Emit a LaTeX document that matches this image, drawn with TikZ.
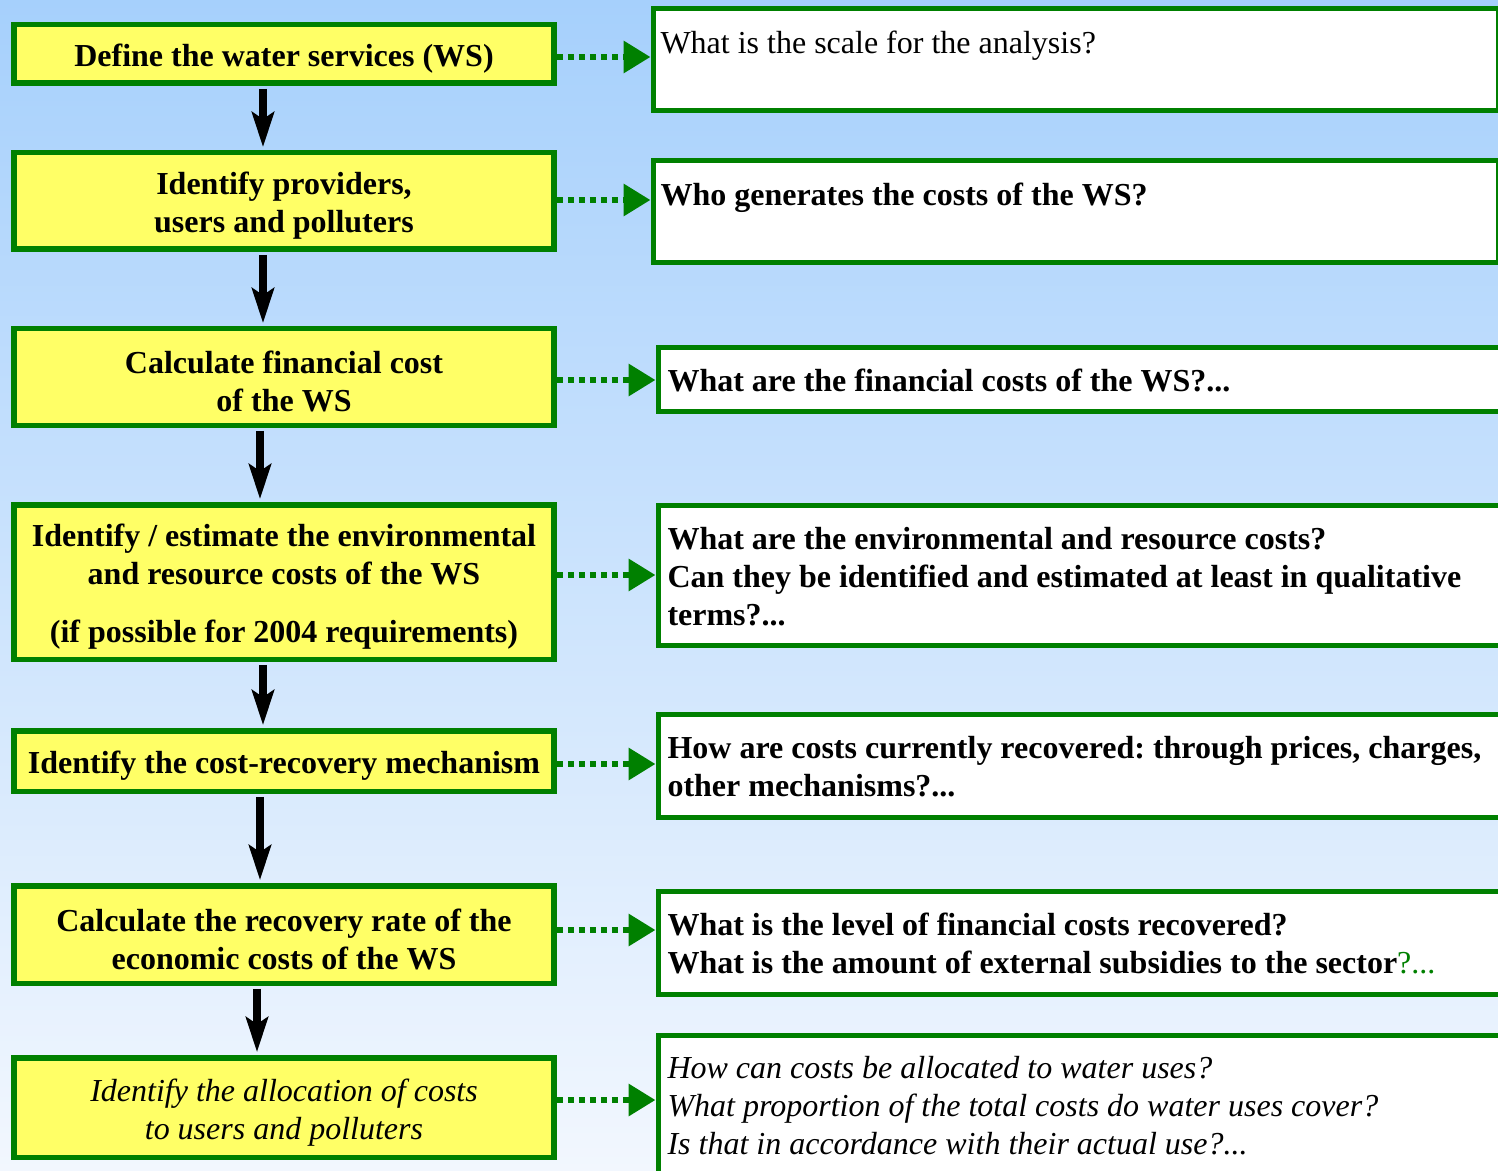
\documentclass[tikz,border=0pt]{standalone}
\usepackage{fontspec}
\setmainfont{Liberation Serif}
\usepackage{xcolor}
\definecolor{wsgreen}{RGB}{0,128,0}
\definecolor{wsyellow}{RGB}{255,255,102}
\definecolor{skytop}{RGB}{166,208,252}
\definecolor{skymid}{RGB}{200,226,252}
\definecolor{skybot}{RGB}{242,247,254}
\usetikzlibrary{arrows.meta}
\frenchspacing

\begin{document}
\begin{tikzpicture}[x=0.5pt, y=-0.5pt,
  every node/.style={font=\fontsize{16}{19}\selectfont},
  stepbx/.style={draw=wsgreen, fill=wsyellow, line width=2.75pt, text width=270pt, text height=16pt, align=flush center, inner sep=0pt, font=\fontsize{16}{19}\selectfont\bfseries},
  askbx/.style={draw=wsgreen, fill=white, line width=2.5pt, anchor=west, align=flush left, inner ysep=0pt, inner xsep=4.75pt, text width=425.5pt, text height=12pt},
  topask/.style={askbx, inner xsep=3.75pt, text width=415pt, minimum height=51pt, text height=11pt, text depth=17pt},
  flowarr/.style={-{Stealth[length=17.5pt, width=11pt, inset=3.5pt]}, line width=4pt, shorten <=1.4pt, shorten >=1.4pt},
  askarr/.style={-{Triangle[length=13.5pt, width=15.5pt]}, wsgreen, line width=3.25pt, dash pattern=on 3.25pt off 2.25pt}]
% Background
\useasboundingbox (0,0) rectangle (1498,1171);
\shade[top color=skytop, middle color=skymid, bottom color=skybot] (0,0) rectangle (1498,1171);
\clip (0,0) rectangle (1498,1171);
% Steps
\node[stepbx, minimum height=29.25pt] (s1) at (284,54) {Define the water services (WS)};
\node[stepbx, minimum height=48.25pt] (s2) at (284,201) {Identify providers,\\users and polluters};
\node[stepbx, minimum height=48.25pt] (s3) at (284,377) {Calculate financial cost\\of the WS};
\node[stepbx, minimum height=77.25pt] (s4) at (284,582) {Identify / estimate the environmental\\and resource costs of the WS\\[10pt](if possible for 2004 requirements)};
\node[stepbx, minimum height=30.25pt] (s5) at (284,761) {Identify the cost-recovery mechanism};
\node[stepbx, minimum height=48.75pt] (s6) at (284,934.5) {Calculate the recovery rate of the\\economic costs of the WS};
\node[stepbx, minimum height=49.75pt, font=\fontsize{16}{19}\selectfont\itshape] (s7) at (284,1107.5) {Identify the allocation of costs\\to users and polluters};
% Questions
\node[topask] (q1) at (650.5,59.5) {What is the scale for the analysis?};
\node[topask, font=\fontsize{16}{19}\selectfont\bfseries] (q2) at (650.5,211.5) {Who generates the costs of the WS?};
\node[askbx, minimum height=32pt, font=\fontsize{16}{19}\selectfont\bfseries] (q3) at (655.5,379.5) {What are the financial costs of the WS?...};
\node[askbx, minimum height=70pt, font=\fontsize{16}{19}\selectfont\bfseries] (q4) at (655.5,575.5) {What are the environmental and resource costs?\\Can they be identified and estimated at least in qualitative\\terms?...};
\node[askbx, minimum height=51.5pt, font=\fontsize{16}{19}\selectfont\bfseries] (q5) at (655.5,766) {How are costs currently recovered: through prices, charges,\\other mechanisms?...};
\node[askbx, minimum height=51.5pt, font=\fontsize{16}{19}\selectfont\bfseries] (q6) at (655.5,943) {What is the level of financial costs recovered?\\What is the amount of external subsidies to the sector{\color{wsgreen}\mdseries ?...}};
\node[askbx, minimum height=70pt, font=\fontsize{16}{19}\selectfont\itshape] (q7) at (655.5,1105) {How can costs be allocated to water uses?\\What proportion of the total costs do water uses cover?\\Is that in accordance with their actual use?...};
% Flow arrows
\draw[flowarr] ([xshift=-10.5pt]s1.south) -- ([xshift=-10.5pt]s2.north);
\draw[flowarr] ([xshift=-10.5pt]s2.south) -- ([xshift=-10.5pt]s3.north);
\draw[flowarr] ([xshift=-12pt]s3.south) -- ([xshift=-12pt]s4.north);
\draw[flowarr] ([xshift=-10.5pt]s4.south) -- ([xshift=-10.5pt]s5.north);
\draw[flowarr] ([xshift=-12pt]s5.south) -- ([xshift=-12pt]s6.north);
\draw[flowarr] ([xshift=-13.5pt]s6.south) -- ([xshift=-13.5pt]s7.north);
% Question links
\draw[askarr] (s1.east |- 0,57) -- (q1.west |- 0,57);
\draw[askarr] (s2.east |- 0,200) -- (q2.west |- 0,200);
\draw[askarr] (s3.east |- 0,380) -- (q3.west |- 0,380);
\draw[askarr] (s4.east |- 0,575) -- (q4.west |- 0,575);
\draw[askarr] (s5.east |- 0,764) -- (q5.west |- 0,764);
\draw[askarr] (s6.east |- 0,930) -- (q6.west |- 0,930);
\draw[askarr] (s7.east |- 0,1100) -- (q7.west |- 0,1100);
\end{tikzpicture}
\end{document}
